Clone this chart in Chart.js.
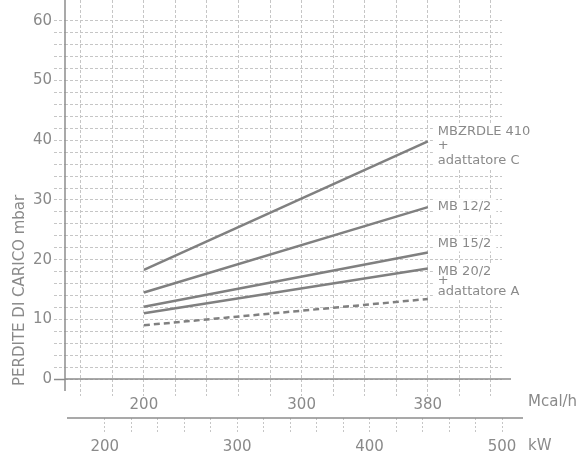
<!DOCTYPE html>
<html>
<head>
<meta charset="utf-8">
<title>Perdite di carico</title>
<script src="https://cdn.jsdelivr.net/npm/chart.js@4.4.0/dist/chart.umd.min.js"></script>
<style>
  html, body { margin: 0; padding: 0; background: #fff; }
  #wrap { position: relative; width: 587px; height: 459px; }
</style>
</head>
<body>
<div id="wrap"><canvas id="lossChart"></canvas></div>
<script>
// Perdite di carico (mbar) in funzione della potenza (Mcal/h)
const mcalPoints = [200, 380];
const mbzrdle410 = [18.3, 39.8];
const mb12 = [14.5, 28.8];
const mb15 = [12.1, 21.2];
const mb20 = [11.0, 18.5];
const dashedLine = [9.0, 13.4];
const seriesNames = [
    ['MBZRDLE 410', '+', 'adattatore C'],
    ['MB 12/2'],
    ['MB 15/2'],
    ['MB 20/2', '+', 'adattatore A'],
    []
];
const yTickLabels = [0, 10, 20, 30, 40, 50, 60];
const mcalTickLabels = [200, 300, 380];
const kwTickLabels = [200, 300, 400, 500];

const INK = '#8a8a8a';
const AXIS = '#8c8c8c';
const GRID = '#c6c6c6';
const LINE = '#808080';
const FONT = 'DejaVu Sans';

// vertical offsets of each label line from the end of its series
const labelDy = [[-10, 4, 19], [0], [-9], [3, 12, 23], []];

const toPoints = vals => vals.map((v, i) => ({ x: mcalPoints[i], y: v }));

// grid every `step` between lo and hi (minor grid lines)
const gridTicks = (lo, hi, step) => {
    const out = [];
    for (let v = lo; v <= hi; v += step) out.push({ value: v });
    return out;
};

const decor = {
    id: 'decor',
    beforeDatasetsDraw(chart) {
        const { ctx, chartArea, scales } = chart;
        const y0 = scales.y.getPixelForValue(0);
        ctx.save();
        ctx.strokeStyle = AXIS;
        ctx.lineWidth = 1.5;
        // Mcal axis line
        ctx.beginPath();
        ctx.moveTo(chartArea.left, y0);
        ctx.lineTo(chartArea.right + 9, y0);
        ctx.stroke();
        // y axis line runs a little below the x axis
        ctx.beginPath();
        ctx.moveTo(chartArea.left, chartArea.top);
        ctx.lineTo(chartArea.left, y0 + 12);
        ctx.stroke();
        // kW axis line
        const kTop = scales.x2.top;
        ctx.beginPath();
        ctx.moveTo(chartArea.left + 2, kTop);
        ctx.lineTo(chartArea.right + 21, kTop);
        ctx.stroke();
        ctx.restore();
    },
    afterDraw(chart) {
        const { ctx, scales } = chart;
        ctx.save();
        ctx.fillStyle = INK;
        ctx.font = '15px "' + FONT + '"';
        ctx.textBaseline = 'middle';
        ctx.textAlign = 'left';
        ctx.fillText('Mcal/h', 528, 402);
        ctx.fillText('kW', 528, 446);

        // y title
        ctx.save();
        ctx.translate(20, 386);
        ctx.rotate(-Math.PI / 2);
        ctx.fillText('PERDITE DI CARICO mbar', 0, 0);
        ctx.restore();

        // series labels with white backing
        ctx.font = '13px "' + FONT + '"';
        chart.data.datasets.forEach((ds, i) => {
            const names = seriesNames[i];
            if (!names.length) return;
            const last = ds.data[ds.data.length - 1];
            const px = scales.x.getPixelForValue(last.x) + 10;
            const py = scales.y.getPixelForValue(last.y);
            const w = Math.max(...names.map(n => ctx.measureText(n).width));
            const top = py + labelDy[i][0] - 8;
            const bot = py + labelDy[i][names.length - 1] + 8;
            ctx.fillStyle = '#fff';
            ctx.fillRect(px - 5, top, w + 10, bot - top);
            ctx.fillStyle = INK;
            names.forEach((n, j) => ctx.fillText(n, px, py + labelDy[i][j]));
        });
        ctx.restore();
    }
};

const lineSet = (data, dashed) => ({
    data: toPoints(data),
    borderColor: LINE,
    borderWidth: 2.5,
    borderDash: dashed ? [6, 4] : [],
    pointRadius: 0,
    fill: false,
    tension: 0,
    xAxisID: 'x',
    yAxisID: 'y'
});

new Chart(document.getElementById('lossChart'), {
    type: 'line',
    data: {
        datasets: [
            lineSet(mbzrdle410),
            lineSet(mb12),
            lineSet(mb15),
            lineSet(mb20),
            lineSet(dashedLine, true)
        ]
    },
    options: {
        responsive: true,
        maintainAspectRatio: false,
        animation: false,
        layout: { padding: { left: 0, right: 85, top: 0, bottom: 0 } },
        plugins: { legend: { display: false }, tooltip: { enabled: false } },
        scales: {
            y: {
                min: 0,
                max: 63.5,
                afterBuildTicks: s => { s.ticks = gridTicks(0, 60, 2); },
                afterFit: s => { s.width = 65; s.paddingTop = 0; s.paddingBottom = 0; },
                ticks: {
                    autoSkip: false,
                    padding: 2,
                    color: INK,
                    font: { family: FONT, size: 15 },
                    callback: v => yTickLabels.includes(v) ? String(v) : ''
                },
                grid: {
                    color: GRID,
                    lineWidth: 1,
                    tickLength: 11,
                    tickColor: c => c.tick && c.tick.value === 0 ? AXIS : GRID,
                    tickWidth: c => c.tick && c.tick.value === 0 ? 1.5 : 1,
                    tickBorderDash: c => c.tick && c.tick.value === 0 ? [] : [3, 2]
                },
                border: { display: false, dash: [3, 2] }
            },
            x: {
                type: 'linear',
                position: 'bottom',
                min: 150,
                max: 427,
                afterBuildTicks: s => { s.ticks = gridTicks(160, 420, 20); },
                afterFit: s => { s.height = 39; s.paddingLeft = 0; s.paddingRight = 0; },
                ticks: {
                    autoSkip: false,
                    maxRotation: 0,
                    padding: 0,
                    color: INK,
                    font: { family: FONT, size: 15 },
                    callback: v => mcalTickLabels.includes(v) ? String(v) : ''
                },
                grid: {
                    color: GRID,
                    lineWidth: 1,
                    tickLength: 17,
                    tickBorderDash: [3, 2]
                },
                border: { display: false, dash: [3, 2] }
            },
            x2: {
                type: 'linear',
                position: 'bottom',
                min: 170,
                max: 500,
                afterBuildTicks: s => { s.ticks = gridTicks(200, 500, 20); },
                afterFit: s => { s.height = 41; s.paddingLeft = 0; s.paddingRight = 0; },
                ticks: {
                    autoSkip: false,
                    maxRotation: 0,
                    padding: 5,
                    color: INK,
                    font: { family: FONT, size: 15 },
                    callback: v => kwTickLabels.includes(v) ? String(v) : ''
                },
                grid: {
                    drawOnChartArea: false,
                    color: GRID,
                    lineWidth: 1,
                    tickLength: 15,
                    tickBorderDash: [2, 2]
                },
                border: { display: false }
            }
        }
    },
    plugins: [decor]
});
</script>
</body>
</html>
